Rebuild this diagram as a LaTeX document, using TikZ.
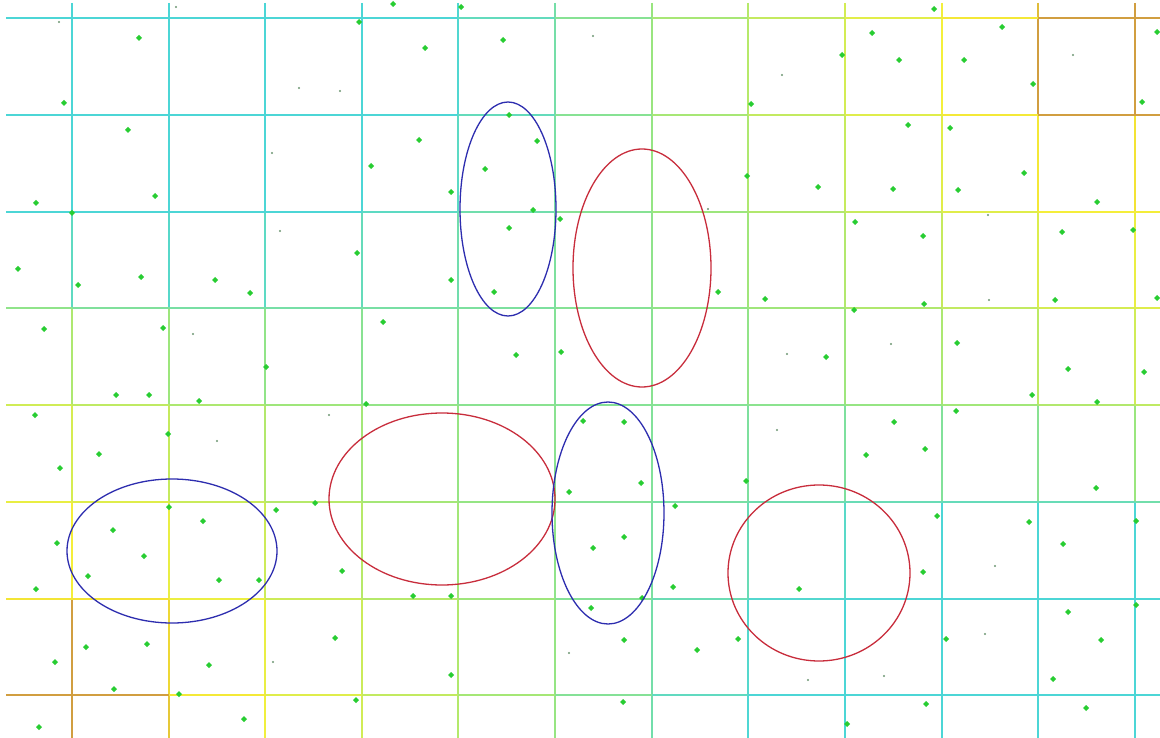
\documentclass[tikz,border=0pt]{standalone}
\usepackage{tikz}
\definecolor{ellblue}{RGB}{45,45,175}
\definecolor{ellred}{RGB}{200,45,60}
\definecolor{dotgreen}{RGB}{40,205,50}
\definecolor{smudge}{RGB}{110,150,115}
% scalar field -> colour map
\newcommand\segcolor[2]{%
  \pgfmathsetmacro\gSx{(#1-600)/600}%
  \pgfmathsetmacro\gSy{(#2-390)/370}%
  \pgfmathsetmacro\gGx{max(-1,min(1,1.3*\gSx))}%
  \pgfmathsetmacro\gGy{max(-1,min(1,1.3*\gSy))}%
  \pgfmathsetmacro\gBa{exp(-(((#1-1100)/100)^2+((#2-65)/100)^2)/0.8)}%
  \pgfmathsetmacro\gBb{exp(-(((#1-100)/100)^2+((#2-680)/100)^2)/0.8)}%
  \pgfmathsetmacro\gF{max(0,min(1,0.40-0.45*\gGx*\gGy+0.25*\gSx*\gSx*(1-abs(\gGy))+0.3*\gBa+0.25*\gBb))}%
  \pgfmathsetmacro\cR{\gF<0.25 ? 0.30 : (\gF<0.45 ? 0.30+0.30*(\gF-0.25)/0.2 : (\gF<0.75 ? 0.60+0.36*(\gF-0.45)/0.3 : (\gF<0.9 ? 0.96-0.01*(\gF-0.75)/0.15 : 0.95-0.13*(\gF-0.9)/0.1)))}%
  \pgfmathsetmacro\cG{\gF<0.25 ? 0.84 : (\gF<0.45 ? 0.84+0.06*(\gF-0.25)/0.2 : (\gF<0.75 ? 0.90+0.04*(\gF-0.45)/0.3 : (\gF<0.9 ? 0.94-0.06*(\gF-0.75)/0.15 : 0.88-0.26*(\gF-0.9)/0.1)))}%
  \pgfmathsetmacro\cB{\gF<0.25 ? 0.84 : (\gF<0.45 ? 0.84-0.34*(\gF-0.25)/0.2 : (\gF<0.75 ? 0.50-0.27*(\gF-0.45)/0.3 : (\gF<0.9 ? 0.23-0.03*(\gF-0.75)/0.15 : 0.20+0.05*(\gF-0.9)/0.1)))}%
  \definecolor{segcol}{rgb}{\cR,\cG,\cB}%
}
\tikzset{
  gridline/.style={line width=1.15pt},
  blueell/.style={draw=ellblue,line width=1.3pt},
  redell/.style={draw=ellred,line width=1.3pt},
  gdot/.style={fill=dotgreen},
  sdot/.style={fill=smudge}
}
\begin{document}
\begin{tikzpicture}[x=1pt,y=-1pt]
\useasboundingbox (0,0) rectangle (1160,738);
\fill[white] (0,0) rectangle (1160,738);
% vertical grid segments
\foreach \gx in {72,169,265,362,458,555,652,748,845,942,1038,1135}{
  \foreach \ya/\yb in {3/18,18/115,115/212,212/308,308/405,405/502,502/599,599/695,695/738}{
    \pgfmathsetmacro\my{(\ya+\yb)/2}
    \segcolor{\gx}{\my}
    \draw[gridline,segcol] (\gx,\ya) -- (\gx,\yb);
  }}
% horizontal grid segments
\foreach \gy in {18,115,212,308,405,502,599,695}{
  \foreach \xa/\xb in {6/72,72/169,169/265,265/362,362/458,458/555,555/652,652/748,748/845,845/942,942/1038,1038/1135,1135/1160}{
    \pgfmathsetmacro\mx{(\xa+\xb)/2}
    \segcolor{\mx}{\gy}
    \draw[gridline,segcol] (\xa,\gy) -- (\xb,\gy);
  }}
% faint smudges
\foreach \p in {(176,7),(59,22),(299,88),(340,91),(272,153),(280,231),(988,215),(1073,55),(782,75),(593,36),(708,209),(787,354),(777,430),(193,334),(217,441),(329,415),(989,300),(891,344),(273,662),(569,653),(995,566),(985,634),(808,680),(884,676)}
  \fill[sdot] \p circle (1.2);
% green dots
\foreach \p in {(393,4),(359,22),(139,38),(64,103),(128,130),(371,166),(155,196),(36,203),(72,213),
(934,9),(872,33),(1002,27),(1157,32),(842,55),(899,60),(964,60),(1033,84),(1142,102),(908,125),(950,128),(818,187),(893,189),(958,190),(1024,173),(1097,202),(855,222),(923,236),(1062,232),(1133,230),
(461,7),(425,48),(503,40),(751,104),(509,115),(419,140),(537,141),(485,169),(451,192),(533,210),(560,219),(509,228),(747,176),
(451,280),(494,292),(516,355),(561,352),(718,292),(765,299),(583,421),(624,422),(641,483),(569,492),(746,481),
(18,269),(78,285),(141,277),(215,280),(250,293),(357,253),(44,329),(163,328),(266,367),(383,322),(116,395),(149,395),(199,401),(366,404),(35,415),(168,434),(99,454),(60,468),
(854,310),(924,304),(1055,300),(1157,298),(826,357),(957,343),(1068,369),(1144,372),(1032,395),(1097,402),(956,411),(894,422),(866,455),(925,449),(1096,488),
(169,507),(203,521),(276,510),(315,503),(57,543),(113,530),(144,556),(88,576),(219,580),(259,580),(36,589),(342,571),(335,638),(86,647),(147,644),(55,662),(209,665),(114,689),(179,694),(356,700),(39,727),(244,719),
(675,506),(624,537),(593,548),(673,587),(642,598),(591,608),(413,596),(451,596),(624,640),(697,650),(738,639),(799,589),(451,675),(623,702),
(937,516),(1029,522),(1136,521),(1063,544),(923,572),(1136,605),(1068,612),(1101,640),(946,639),(1053,679),(926,704),(1086,708),(847,724)}
  \fill[gdot] \p +(0,-3) -- +(3,0) -- +(0,3) -- +(-3,0) -- cycle;
% ellipses
\draw[blueell] (508,209) ellipse [x radius=48, y radius=107];
\draw[redell] (642,268) ellipse [x radius=69, y radius=119];
\draw[redell] (442,499) ellipse [x radius=113, y radius=86];
\draw[blueell] (608,513) ellipse [x radius=56, y radius=111];
\draw[blueell] (172,551) ellipse [x radius=105, y radius=72];
\draw[redell] (819,573) ellipse [x radius=91, y radius=88];
\end{tikzpicture}
\end{document}
